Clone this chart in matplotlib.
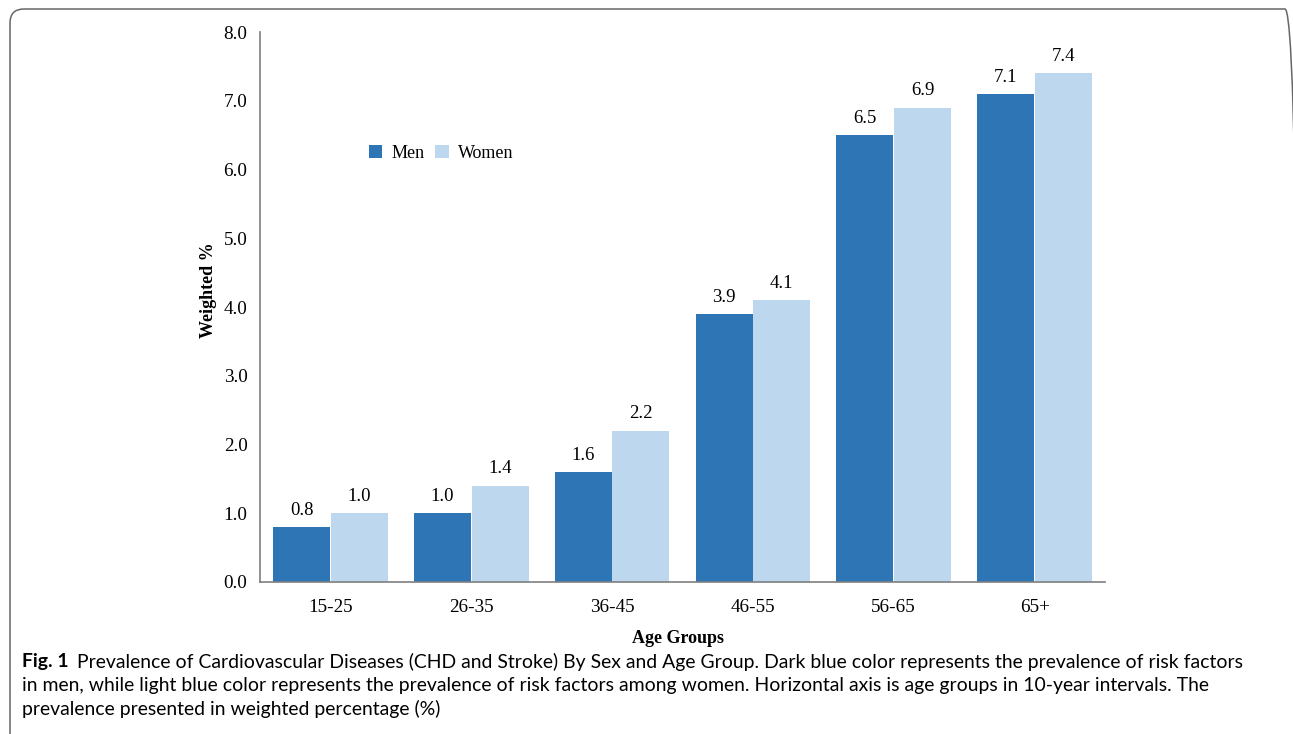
import matplotlib
matplotlib.use("Agg")
import matplotlib.pyplot as plt
from matplotlib.patches import FancyBboxPatch
from matplotlib.transforms import IdentityTransform
import numpy as np

categories = ["15-25", "26-35", "36-45", "46-55", "56-65", "65+"]
men = [0.8, 1.0, 1.6, 3.9, 6.5, 7.1]
women = [1.0, 1.4, 2.2, 4.1, 6.9, 7.4]
yticks = [0.0, 1.0, 2.0, 3.0, 4.0, 5.0, 6.0, 7.0, 8.0]

caption_bold = "Fig. 1"
caption_lines = [
    "Prevalence of Cardiovascular Diseases (CHD and Stroke) By Sex and Age Group. Dark blue color represents the prevalence of risk factors",
    "in men, while light blue color represents the prevalence of risk factors among women. Horizontal axis is age groups in 10-year intervals. The",
    "prevalence presented in weighted percentage (%)",
]

W, H = 1293, 734
fig = plt.figure(figsize=(W / 100, H / 100), dpi=100)
serif = "Liberation Serif"

# Border box (pixel coordinates, origin bottom-left); right edge runs off canvas
box = FancyBboxPatch((10, -80), 1299 - 10, (H - 9) + 80,
                     boxstyle="round,pad=0,rounding_size=14",
                     transform=IdentityTransform(), fill=False,
                     edgecolor="#666666", linewidth=1.1, clip_on=False)
fig.add_artist(box)

ax = fig.add_axes([260 / W, 1 - 582 / H, (1105 - 260) / W, (582 - 32) / H])
x = np.arange(len(categories))
bw = 0.405
gap = 0.004
b1 = ax.bar(x - bw / 2 - gap / 2, men, bw, color="#2E75B6", label="Men")
b2 = ax.bar(x + bw / 2 + gap / 2, women, bw, color="#BDD7EE", label="Women")
for bars, vals in ((b1, men), (b2, women)):
    for r, v in zip(bars, vals):
        ax.annotate(f"{v:.1f}", (r.get_x() + r.get_width() / 2, v),
                    xytext=(0, 6), textcoords="offset points",
                    ha="center", va="bottom", fontsize=13.5, family=serif)

ax.set_xlim(-0.5, len(categories) - 0.5)
ax.set_ylim(0, 8)
ax.set_yticks(yticks)
ax.set_yticklabels([f"{t:.1f}" for t in yticks])
ax.set_xticks(x)
ax.set_xticklabels(categories)
ax.tick_params(axis="both", length=0, labelsize=13.8)
ax.tick_params(axis="y", pad=9)
ax.tick_params(axis="x", pad=12)
for lab in ax.get_xticklabels() + ax.get_yticklabels():
    lab.set_family(serif)
for s in ("top", "right"):
    ax.spines[s].set_visible(False)
for s in ("left", "bottom"):
    ax.spines[s].set_color("#7f7f7f")
    ax.spines[s].set_linewidth(1.2)

ax.set_ylabel("Weighted %", fontsize=13, fontweight="bold", family=serif)
ax.yaxis.set_label_coords(-0.051, 0.53)
ax.set_xlabel("Age Groups", fontsize=13, fontweight="bold", family=serif)
ax.xaxis.set_label_coords(0.495, -0.088)

ax.legend(loc="center left", bbox_to_anchor=(0.12, 0.78), ncol=2, frameon=False,
          prop={"family": serif, "size": 13}, handlelength=0.75, handleheight=0.75,
          handletextpad=0.5, columnspacing=0.6, borderaxespad=0)

# Caption
fig.canvas.draw()
r = fig.canvas.get_renderer()
cap_font = ["Lato", "DejaVu Sans"]
fs = 12.0
tb = fig.text(22 / W, 1 - 662 / H, caption_bold, fontsize=fs, fontweight="bold",
              family=cap_font, va="center", ha="left")
bb = tb.get_window_extent(r)
t1 = fig.text((bb.x1 + 8) / W, 1 - 662 / H, caption_lines[0], fontsize=fs, family=cap_font,
              va="center", ha="left")
e = t1.get_window_extent(r)
scale = (1232 - e.x0) / (e.x1 - e.x0)
fs2 = fs * scale
tb.set_fontsize(fs2)
bb = tb.get_window_extent(r)
t1.set_x((bb.x1 + 8) / W)
t1.set_fontsize(fs2)
fig.text(22 / W, 1 - 686 / H, caption_lines[1], fontsize=fs2, family=cap_font,
         va="center", ha="left")
fig.text(22 / W, 1 - 709 / H, caption_lines[2], fontsize=fs2, family=cap_font,
         va="center", ha="left")

fig.savefig("out.png", dpi=100)
